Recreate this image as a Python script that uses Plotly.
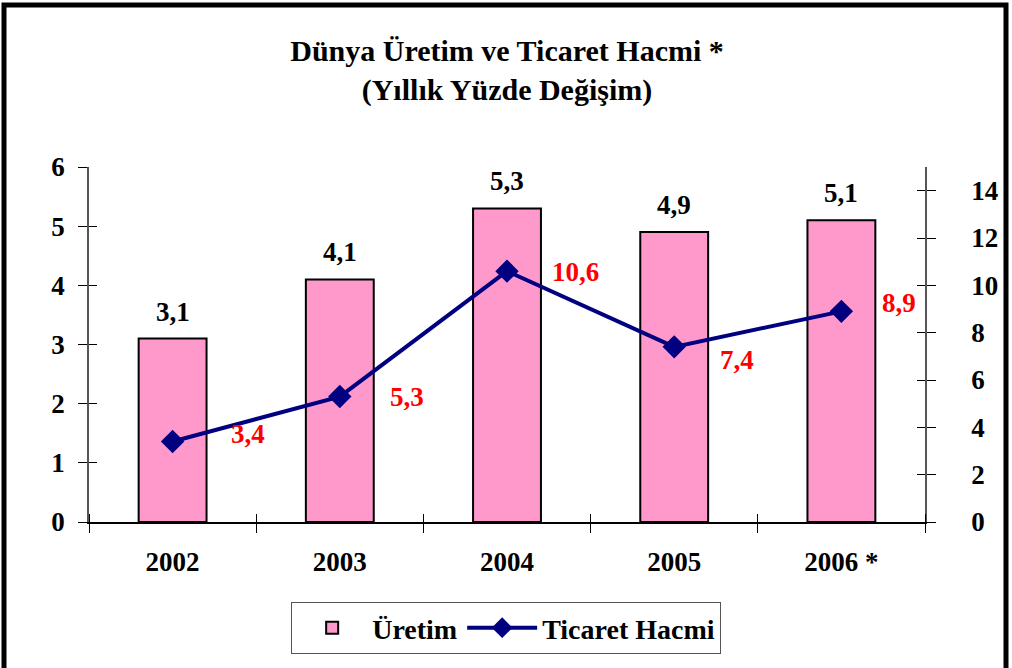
import plotly.graph_objects as go

years = ["2002", "2003", "2004", "2005", "2006 *"]
uretim = [3.1, 4.1, 5.3, 4.9, 5.1]
ticaret = [3.4, 5.3, 10.6, 7.4, 8.9]
left_ticks = [0, 1, 2, 3, 4, 5, 6]
right_ticks = [0, 2, 4, 6, 8, 10, 12, 14]
# pixel offsets of the red labels from their points (dx, dy)
line_label_offsets = [(75, 8), (67, 0), (68, -1), (63, -13), (58, 8)]

FONT = "Liberation Serif"
FS = 27

def fmt(v):
    return f"{v:.1f}".replace(".", ",")

bold = dict(family=FONT, size=FS, color="black", weight="bold")
xpos = list(range(len(years)))
xrange_ = [-0.5, len(years) - 0.5]

fig = go.Figure()
fig.add_trace(go.Bar(
    x=xpos, y=uretim, name="Üretim", width=0.406,
    marker=dict(color="#FF99CC", line=dict(color="black", width=2)),
    yaxis="y",
))
fig.add_trace(go.Scatter(
    x=xpos, y=ticaret, name="Ticaret Hacmi", mode="lines+markers",
    line=dict(color="#000080", width=4),
    marker=dict(symbol="diamond", size=18, color="#000080"),
    yaxis="y2",
))
# invisible traces that make the tick-only overlay axes draw (crossed ticks)
fig.add_trace(go.Scatter(x=xpos, y=uretim, xaxis="x2", yaxis="y3", mode="none",
                         showlegend=False, hoverinfo="skip"))
fig.add_trace(go.Scatter(x=xpos, y=ticaret, xaxis="x2", yaxis="y4", mode="none",
                         showlegend=False, hoverinfo="skip"))

annotations = []
for x, v in zip(xpos, uretim):
    annotations.append(dict(x=x, y=v, xref="x", yref="y", text=fmt(v),
                            showarrow=False, yanchor="middle", yshift=27,
                            font=bold))
for x, v, (dx, dy) in zip(xpos, ticaret, line_label_offsets):
    annotations.append(dict(x=x, y=v, xref="x", yref="y2", text=fmt(v),
                            showarrow=False, xshift=dx, yshift=dy,
                            font=dict(family=FONT, size=FS, color="red", weight="bold")))

fig.update_layout(
    width=1012, height=668,
    margin=dict(l=89, r=87, t=167, b=146),
    paper_bgcolor="white", plot_bgcolor="white",
    font=dict(family=FONT, size=FS, color="black"),
    title=dict(text="Dünya Üretim ve Ticaret Hacmi *<br>(Yıllık Yüzde Değişim)",
               x=0.5, xref="paper", xanchor="center", y=1 - 61 / 668, yanchor="middle",
               font=dict(family=FONT, size=30, color="black", weight="bold")),
    showlegend=True,
    legend=dict(orientation="h", x=0.499, y=-0.2986, xanchor="center", yanchor="middle",
                bordercolor="#555", borderwidth=1, bgcolor="white",
                font=dict(family=FONT, size=28, color="black", weight="bold"),
                itemwidth=70, tracegroupgap=0),
    xaxis=dict(type="linear", range=xrange_,
               tickvals=xpos, ticktext=years, ticks="",
               minor=dict(tick0=0.5, dtick=1, ticks="outside", ticklen=9,
                          tickcolor="black", showgrid=False),
               showline=True, linecolor="black", linewidth=1.5,
               showgrid=False, zeroline=False, tickfont=bold, ticklabelstandoff=15),
    xaxis2=dict(type="linear", range=xrange_, overlaying="x", side="bottom",
                tickvals=xpos, ticks="", showticklabels=False,
                minor=dict(tick0=0.5, dtick=1, ticks="inside", ticklen=8,
                           tickcolor="black", showgrid=False),
                showline=False, showgrid=False, zeroline=False),
    yaxis=dict(range=[0, 6], tickvals=left_ticks, showline=True, linecolor="#555",
               linewidth=1.5, ticks="outside", ticklen=9, tickcolor="black",
               showgrid=False, zeroline=False, tickfont=bold, ticklabelstandoff=8),
    yaxis2=dict(range=[0, 15], tickvals=right_ticks, overlaying="y", side="right",
                showline=True, linecolor="#555", linewidth=1.5, ticks="outside",
                ticklen=9, tickcolor="black", showgrid=False, zeroline=False,
                tickfont=bold, ticklabelstandoff=30),
    yaxis3=dict(range=[0, 6], tickvals=left_ticks, overlaying="y", side="left",
                anchor="x2", ticks="inside", ticklen=8, tickcolor="black",
                showticklabels=False, showgrid=False, zeroline=False, showline=False),
    yaxis4=dict(range=[0, 15], tickvals=right_ticks, overlaying="y", side="right",
                anchor="x2", ticks="inside", ticklen=8, tickcolor="black",
                showticklabels=False, showgrid=False, zeroline=False, showline=False),
    annotations=annotations,
    shapes=[dict(type="rect", xref="paper", yref="paper",
                 x0=(4 - 89) / 836, x1=(1006 - 89) / 836,
                 y0=(522 - 672) / 355, y1=(522 - 5) / 355,
                 line=dict(color="black", width=5), layer="above")],
)

fig.write_html("out.html", config={"displayModeBar": False},
               post_script="document.body.style.margin='0';")
